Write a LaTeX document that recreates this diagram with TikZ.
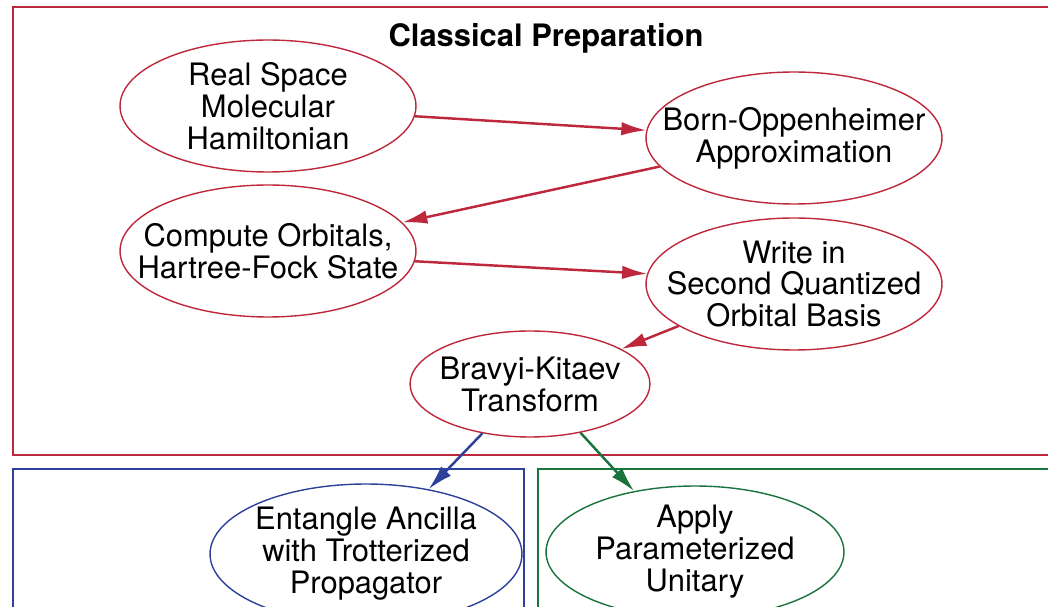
\documentclass[tikz,border=0pt]{standalone}
\usepackage{fontspec}
\setmainfont{TeX Gyre Heros}
\usepackage{xcolor}
\usetikzlibrary{arrows.meta,shapes.geometric}
\definecolor{prepred}{RGB}{190,40,60}
\definecolor{pathblue}{RGB}{45,65,155}
\definecolor{pathgreen}{RGB}{25,115,60}
\tikzset{
  stage/.style={ellipse, draw, line width=0.8pt, align=center, inner sep=-0.6cm, minimum width=5.92cm, minimum height=2.64cm, font=\fontsize{17.6}{18.2}\selectfont},
  region/.style={draw, line width=1.1pt},
  line/.style={-{Latex[length=0.5cm, width=0.27cm]}, line width=1.4pt}
}
\begin{document}
\begin{tikzpicture}[x=0.02cm, y=-0.02cm]
  \path[use as bounding box, clip] (0,0) rectangle (1048,607);
  % boxes
  \draw[region, prepred] (13,7) rectangle (1070,455);
  \draw[region, pathblue] (13,469) rectangle (524,640);
  \draw[region, pathgreen] (538,469) rectangle (1070,640);
  \node[font=\fontsize{17.6}{18.2}\selectfont\bfseries] (title) at (546,38) {Classical Preparation};
  % classical preparation
  \node[stage, prepred, text=black] (realspace) at (268,106) {Real Space\\Molecular\\Hamiltonian};
  \node[stage, prepred, text=black] (bornopp) at (794,138) {Born-Oppenheimer\\Approximation};
  \node[stage, prepred, text=black] (orbitals) at (268,251) {Compute Orbitals,\\Hartree-Fock State};
  \node[stage, prepred, text=black] (secondq) at (794,284) {Write in\\Second Quantized\\Orbital Basis};
  \node[stage, prepred, text=black, minimum width=4.8cm, minimum height=2.12cm] (bravyi) at (530,384) {Bravyi-Kitaev\\Transform};
  % quantum stages
  \node[stage, pathblue, text=black, minimum width=6.24cm, minimum height=2.8cm] (entangle) at (366,554) {Entangle Ancilla\\with Trotterized\\Propagator};
  \node[stage, pathgreen, text=black, minimum width=5.96cm] (apply) at (695,552) {Apply\\Parameterized\\Unitary};
  \draw[line, prepred] (realspace.-4) -- (bornopp.177);
  \draw[line, prepred] (bornopp.192.5) -- (orbitals.12);
  \draw[line, prepred] (orbitals.-4) -- (secondq.176.5);
  \draw[line, prepred] (secondq.200) -- (bravyi.21);
  \draw[line, pathblue] (bravyi.226) -- (entangle.46);
  \draw[line, pathgreen] (bravyi.-44) -- (apply.135);
\end{tikzpicture}
\end{document}
